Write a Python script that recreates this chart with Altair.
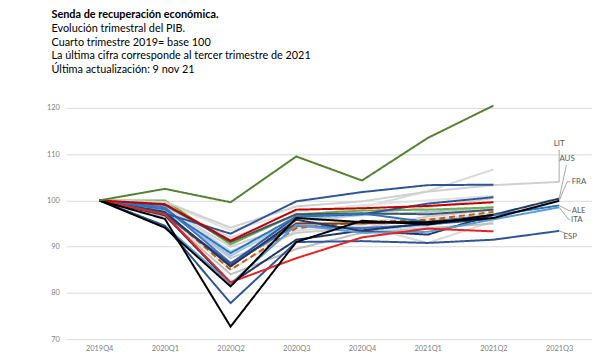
import altair as alt
import pandas as pd

quarters = ["2019Q4", "2020Q1", "2020Q2", "2020Q3", "2020Q4", "2021Q1", "2021Q2", "2021Q3"]

# Background bundle (light colours)
s_gray1 = [100, 98.8, 92.0, 96.5, 98.5, 102.0, 106.7, None]
s_gray2 = [100, 97.0, 85.0, 93.5, 94.5, 90.8, 95.5, None]
s_gray3 = [100, 98.0, 87.5, 93.0, 94.0, 96.5, 98.0, None]
s_gray4 = [100, 99.5, 93.5, 97.5, 99.0, 100.0, 101.0, None]
s_gray5 = [100, 98.5, 90.0, 95.0, 97.0, 98.5, 100.5, None]
s_gray6 = [100, 96.5, 84.0, 89.5, 93.0, 94.0, 95.0, None]
s_gray7 = [100, 99.0, 89.0, 94.0, 95.5, 96.0, 97.2, None]
s_lblue1 = [100, 97.8, 88.0, 96.0, 96.8, 97.5, 98.5, None]
s_lblue2 = [100, 98.0, 89.0, 94.5, 93.5, 94.5, 97.0, None]
s_brown_d = [100, 97.5, 85.0, 94.0, 95.3, 95.8, 97.5, None]
s_brown = [100, 97.0, 86.0, 95.0, 95.0, 95.4, 96.8, None]
s_lgreen = [100, 100.0, 90.5, 97.0, 97.8, 98.0, 98.5, None]
s_steel = [100, 98.5, 86.5, 94.5, 94.0, 94.8, 96.0, None]
s_slate = [100, 99.0, 91.0, 97.0, 97.2, 97.0, 98.0, None]
s_navy2 = [100, 97.0, 86.3, 96.5, 97.0, 99.3, 100.7, None]
s_navy3 = [100, 96.8, 82.0, 91.5, 93.5, 95.0, 96.0, None]

# Highlighted series
s_lit = [100, 99.7, 94.1, 98.7, 99.8, 101.9, 103.3, 104.0]
s_aus = [100, 97.5, 85.7, 95.8, 93.4, 92.6, 96.9, 100.4]
s_ale = [100, 98.1, 88.6, 96.5, 97.2, 95.3, 96.8, 98.9]
s_ita = [100, 94.5, 82.0, 94.7, 93.0, 93.2, 95.9, 98.5]
s_esp = [100, 94.5, 77.8, 91.0, 91.2, 90.8, 91.5, 93.4]
s_fra = [100, 94.1, 81.4, 96.2, 95.3, 95.3, 96.2, 99.9]
s_navy_top = [100, 97.2, 92.8, 99.8, 101.8, 103.3, 103.4, None]
s_red_top = [100, 99.2, 91.3, 98.0, 98.3, 98.8, 99.6, None]
s_red_low = [100, 97.0, 82.3, 87.5, 92.0, 93.9, 93.3, None]
s_black_deep = [100, 96.0, 72.7, 91.0, 95.6, 94.8, 96.9, None]
s_green = [100, 102.5, 99.6, 109.5, 104.3, 113.5, 120.5, None]

series = [
    ("g1", s_gray1, "#d9d9d9", False),
    ("g2", s_gray2, "#d9d9d9", False),
    ("g3", s_gray3, "#c9c9c9", False),
    ("g4", s_gray4, "#e2e2e2", False),
    ("g5", s_gray5, "#d0d0d0", False),
    ("g6", s_gray6, "#bfbfbf", False),
    ("g7", s_gray7, "#dcdcdc", False),
    ("lb1", s_lblue1, "#9dc3e6", False),
    ("lb2", s_lblue2, "#bdd7ee", False),
    ("brd", s_brown_d, "#c55a11", True),
    ("br", s_brown, "#843c0c", False),
    ("lg", s_lgreen, "#70ad47", False),
    ("st", s_steel, "#4472c4", False),
    ("sl", s_slate, "#44546a", False),
    ("n2", s_navy2, "#2f5597", False),
    ("n3", s_navy3, "#1f3864", False),
    ("LIT", s_lit, "#d0d0d0", False),
    ("AUS", s_aus, "#1f3864", False),
    ("ALE", s_ale, "#2e75b6", False),
    ("ITA", s_ita, "#5b9bd5", False),
    ("ESP", s_esp, "#2f5597", False),
    ("ntop", s_navy_top, "#2f5597", False),
    ("rtop", s_red_top, "#c00000", False),
    ("rlow", s_red_low, "#e8231f", False),
    ("bdeep", s_black_deep, "#000000", False),
    ("FRA", s_fra, "#000000", False),
    ("IRL", s_green, "#548235", False),
]

rows = []
for order, (name, vals, color, dashed) in enumerate(series):
    for i, v in enumerate(vals):
        if v is not None:
            rows.append({"serie": name, "i": i, "v": v, "ord": order, "dash": "d" if dashed else "s"})
df = pd.DataFrame(rows)

names = [s[0] for s in series]
colors = [s[2] for s in series]

label_names = ["LIT", "AUS", "FRA", "ALE", "ITA", "ESP"]
label_x = [7.0, 7.12, 7.19, 7.19, 7.18, 7.17]
label_y = [112.3, 108.9, 104.0, 97.8, 95.8, 92.0]
label_align = ["center", "center", "left", "left", "left", "center"]

# leader lines: start (x, y) -> end (x2, y2)
lead_x = [7.0, 7.0, 7.0, 7.12, 7.0, 7.15, 7.0, 7.15, 7.0]
lead_y = [104.0, 100.4, 99.9, 104.0, 98.9, 97.8, 98.5, 95.8, 93.4]
lead_x2 = [7.0, 7.11, 7.12, 7.17, 7.15, 7.18, 7.15, 7.17, 7.14]
lead_y2 = [110.9, 107.6, 104.0, 104.0, 97.8, 97.8, 95.8, 95.8, 92.7]

labels_df = pd.DataFrame({"t": label_names, "x": label_x, "y": label_y, "a": label_align})
lead_df = pd.DataFrame({"x": lead_x, "y": lead_y, "x2": lead_x2, "y2": lead_y2})

FONT = "Lato"

xscale = alt.Scale(domain=[-0.5, 7.5], nice=False, zero=False)
yscale = alt.Scale(domain=[70, 121.5], nice=False, zero=False)

label_expr = "[" + ",".join("'" + q + "'" for q in quarters) + "][datum.value]"

lines = alt.Chart(df).mark_line(strokeWidth=2, clip=False).encode(
    x=alt.X("i:Q", scale=xscale, title=None,
            axis=alt.Axis(values=list(range(8)), labelExpr=label_expr, grid=False,
                          domain=False, ticks=False, labelFontSize=7.5,
                          labelColor="#7f7f7f", labelPadding=6, labelFont=FONT)),
    y=alt.Y("v:Q", scale=yscale, title=None,
            axis=alt.Axis(values=[70, 80, 90, 100, 110, 120], grid=True, gridColor="#d9d9d9",
                          gridWidth=1, domain=False, ticks=False, labelFontSize=7.5,
                          labelColor="#7f7f7f", labelPadding=7, labelFont=FONT)),
    color=alt.Color("serie:N", scale=alt.Scale(domain=names, range=colors), legend=None),
    strokeDash=alt.StrokeDash("dash:N", scale=alt.Scale(domain=["s", "d"], range=[[1, 0], [6, 4]]), legend=None),
    detail="serie:N",
    order=alt.Order("i:Q"),
)

layers = []
for name in names:
    layers.append(lines.transform_filter(alt.datum.serie == name))

leaders = alt.Chart(lead_df).mark_rule(color="#a6a6a6", strokeWidth=1).encode(
    x=alt.X("x:Q", scale=xscale), x2="x2:Q",
    y=alt.Y("y:Q", scale=yscale), y2="y2:Q",
)

texts = []
for al in ["center", "left"]:
    texts.append(
        alt.Chart(labels_df).transform_filter(alt.datum.a == al).mark_text(
            align=al, baseline="middle", fontSize=8, color="#595959", font=FONT
        ).encode(x=alt.X("x:Q", scale=xscale), y=alt.Y("y:Q", scale=yscale), text="t:N")
    )

chart = alt.layer(*layers, leaders, *texts).properties(
    width=532,
    height=241,
    autosize=alt.AutoSizeParams(type="none"),
    padding={"left": 59, "top": 92, "right": 0, "bottom": 17},
    title=alt.TitleParams(
        text="Senda de recuperación económica.",
        subtitle=["Evolución trimestral del PIB.", "Cuarto trimestre 2019= base 100",
                  "La última cifra corresponde al tercer trimestre de 2021",
                  "Última actualización: 9 nov 21"],
        anchor="start", frame="group", dx=-15, offset=26,
        font=FONT, fontSize=11, fontWeight="bold", color="#000000",
        subtitleFont=FONT, subtitleFontSize=11, subtitleColor="#000000",
        subtitleLineHeight=14, subtitlePadding=3,
    ),
).configure_view(stroke=None)

chart.save("out.html", embed_options={"renderer": "svg", "actions": False})
